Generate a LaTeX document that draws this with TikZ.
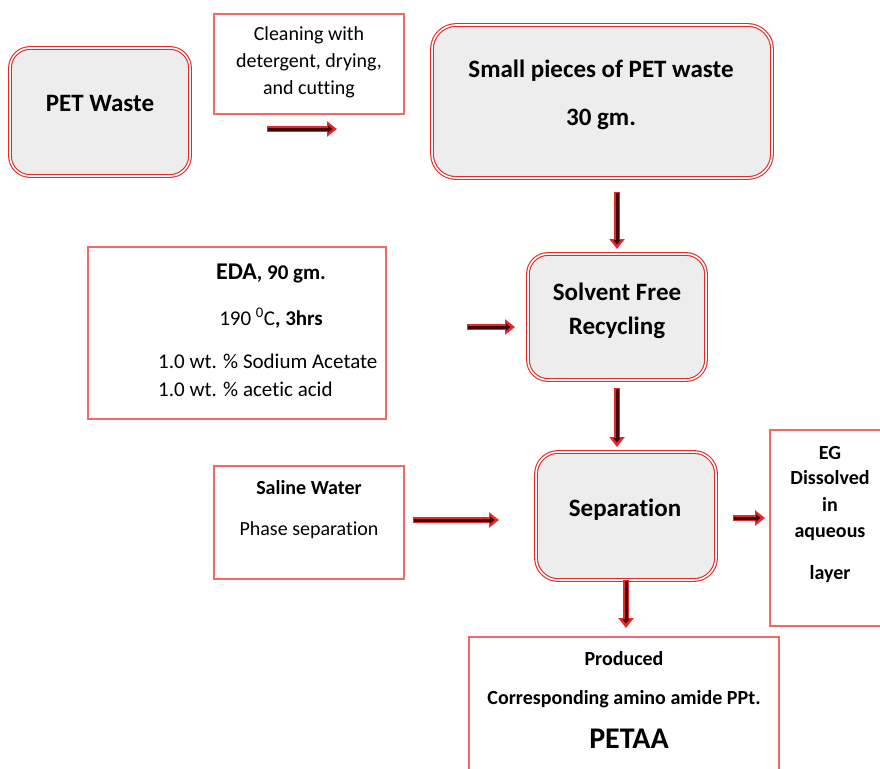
\documentclass[tikz,border=0pt]{standalone}
\usepackage{fontspec}
\setmainfont{Carlito}[Ligatures=NoCommon]
\usetikzlibrary{arrows.meta}
\definecolor{dred}{RGB}{232,40,40}
\definecolor{lred}{RGB}{242,105,105}
\definecolor{adark}{RGB}{60,10,10}
\definecolor{tex}{RGB}{237,237,237}
\tikzset{
  rbox/.style={draw=dred, line width=1.1pt, double=white, double distance=1.6pt, fill=tex, rounded corners=20pt, inner sep=0pt},
  pbox/.style={draw=lred, line width=1.3pt, fill=white, inner sep=0pt},
  txt/.style={inner sep=0pt, text height=0.65em, text depth=0pt, font=\fontsize{20}{24}\selectfont},
  btxt/.style={txt, font=\fontsize{20}{24}\selectfont\bfseries},
  big/.style={txt, font=\fontsize{25}{30}\selectfont\bfseries},
  flow/.style={draw=dred, line width=6.5pt, -{Triangle[length=10pt,width=15pt]},
     postaction={draw=adark, line width=3pt, shorten >=4.5pt, shorten <=1.2pt, -{Triangle[length=4.5pt,width=7pt]}}}
}
\begin{document}
\begin{tikzpicture}[x=1pt,y=-1pt]
\useasboundingbox (0,0) rectangle (880,768);
% boxes
\node[rbox, minimum width=180pt, minimum height=128pt] (pet) at (100,112) {};
\node[pbox, minimum width=190pt, minimum height=100pt] (clean) at (309,64) {};
\node[rbox, minimum width=340pt, minimum height=153pt, rounded corners=24pt] (small) at (602,101.5) {};
\node[pbox, minimum width=298pt, minimum height=172pt] (eda) at (237,333) {};
\node[rbox, minimum width=178pt, minimum height=126pt] (solv) at (617,317) {};
\node[pbox, minimum width=190pt, minimum height=113pt] (saline) at (309,522.5) {};
\node[rbox, minimum width=180pt, minimum height=128pt, rounded corners=22pt] (sep) at (626,516) {};
\node[pbox, minimum width=130pt, minimum height=196pt] (eg) at (835,528) {};
\node[pbox, minimum width=310pt, minimum height=150pt] (petaa) at (624,712) {};
% texts
\node[big] (t1) at (100,108) {PET Waste};
\node[txt] (t2a) at (309,37) {Cleaning with};
\node[txt] (t2b) at (309,64) {detergent, drying,};
\node[txt] (t2c) at (309,91) {and cutting};
\node[big] (t3a) at (601,74) {Small pieces of PET waste};
\node[big] (t3b) at (601,122) {30 gm.};
\node[txt, font=\fontsize{21}{25}\selectfont\bfseries] (t4a) at (271,276) {{\fontsize{24}{28}\selectfont EDA}, 90 gm.};
\node[txt, font=\fontsize{21}{25}\selectfont] (t4b) at (271,322) {190 \textsuperscript{0}C\textbf{, 3hrs}};
\node[txt, font=\fontsize{21}{25}\selectfont, anchor=west] (t4c) at (158,365) {1.0 wt. \% Sodium Acetate};
\node[txt, font=\fontsize{21}{25}\selectfont, anchor=west] (t4d) at (158,393) {1.0 wt. \% acetic acid};
\node[big] (t5a) at (617,297) {Solvent Free};
\node[big] (t5b) at (617,331) {Recycling};
\node[btxt] (t6a) at (309,491) {Saline Water};
\node[txt] (t6b) at (309,532) {Phase separation};
\node[big] (t7) at (625,513) {Separation};
\node[btxt] (t8a) at (830,456) {EG};
\node[btxt] (t8b) at (830,481) {Dissolved};
\node[btxt] (t8c) at (830,508) {in};
\node[btxt] (t8d) at (830,534) {aqueous};
\node[btxt] (t8e) at (830,576) {layer};
\node[btxt] (t9a) at (624,662) {Produced};
\node[btxt] (t9b) at (624,701) {Corresponding amino amide PPt.};
\node[txt, font=\fontsize{30}{36}\selectfont\bfseries] (t9c) at (629,745) {PETAA};
% arrow coordinates
\coordinate (a1s) at (267,129); \coordinate (a1e) at (337,129);
\coordinate (a2s) at (617,192); \coordinate (a2e) at (617,249);
\coordinate (a3s) at (467,327); \coordinate (a3e) at (515,327);
\coordinate (a4s) at (617,388); \coordinate (a4e) at (617,447);
\coordinate (a5s) at (413,520); \coordinate (a5e) at (499,520);
\coordinate (a6s) at (733,518); \coordinate (a6e) at (765,518);
\coordinate (a7s) at (626,580); \coordinate (a7e) at (626,628);
\draw[flow] (a1s) -- (a1e);
\draw[flow] (a2s) -- (a2e);
\draw[flow] (a3s) -- (a3e);
\draw[flow] (a4s) -- (a4e);
\draw[flow] (a5s) -- (a5e);
\draw[flow] (a6s) -- (a6e);
\draw[flow] (a7s) -- (a7e);
\end{tikzpicture}
\end{document}
